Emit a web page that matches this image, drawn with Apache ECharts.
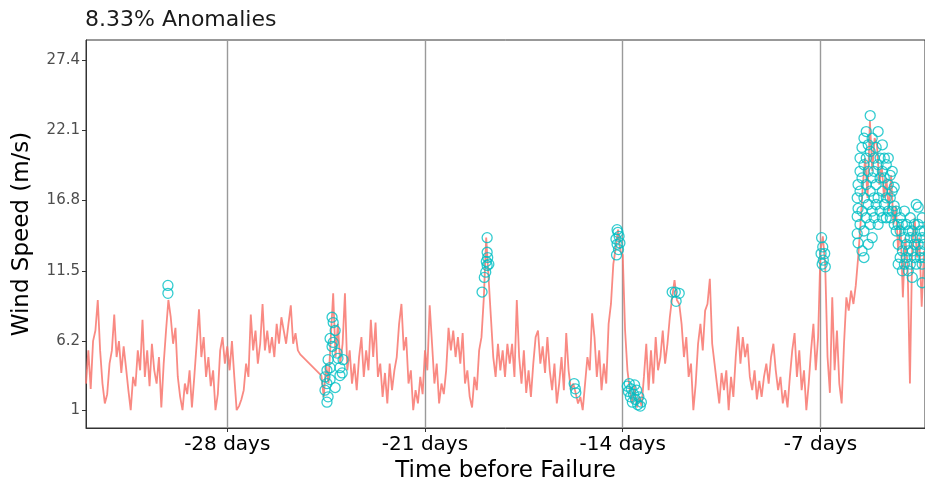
<!DOCTYPE html>
<html lang="en">
  <head>
    <meta charset="UTF-8" />
    <script src="https://cdn.jsdelivr.net/npm/echarts@6/dist/echarts.min.js"></script>
    <title>Wind speed anomalies</title>
    <style>
      html, body { margin: 0; padding: 0; background: #fff; }
      #app { width: 925px; height: 484px; }
    </style>
  </head>
  <body>
    <div id="app"></div>
    <script>
      // wind speed every 2 hours, starting 33 days before failure (null = missing)
      const startDay = -33;
      const stepDays = 1 / 12;
      const windSpeed = [
        3.0, 5.5, 2.6, 6.2, 7.0, 9.3, 5.5, 3.0, 1.5, 2.2, 4.5, 5.5,
        8.2, 5.0, 6.2, 3.8, 5.8, 4.2, 2.5, 1.0, 3.5, 2.8, 5.5, 4.0,
        7.8, 3.5, 5.5, 2.8, 6.0, 4.0, 3.0, 5.0, 1.2, 4.5, 7.0, 9.3,
        8.0, 6.0, 7.2, 3.5, 2.0, 1.0, 3.0, 2.2, 4.0, 1.2, 3.5, 6.0,
        8.6, 5.0, 6.5, 3.5, 5.0, 2.8, 4.0, 1.0, 2.2, 5.5, 6.5, 4.5,
        5.8, 4.0, 6.2, 3.5, 1.0, 1.3, 1.8, 2.5, 4.5, 3.5, 8.2, 5.5,
        7.0, 4.5, 6.0, 9.0, 5.5, 7.0, 5.3, 6.5, 5.0, 7.5, 6.0, 8.0,
        7.0, 6.0, 7.5, 8.9, 6.0, 6.8, 5.5, 5.2, null, null, null, null,
        null, null, null, null, 3.6, 2.0, 4.5, 3.0, 6.5, 9.8, 5.0, 7.5,
        4.5, 6.0, 9.8, 4.0, 5.5, 3.0, 4.5, 2.5, 5.0, 6.5, 3.5, 5.5,
        4.0, 7.8, 5.0, 7.6, 3.5, 4.5, 2.0, 3.8, 1.5, 4.5, 2.5, 4.0,
        5.0, 7.5, 9.0, 5.5, 6.5, 3.0, 4.0, 1.0, 2.5, 1.5, 3.5, 2.2,
        5.5, 4.0, 8.9, 6.0, 3.0, 4.5, 1.5, 3.0, 2.2, 4.0, 7.2, 5.5,
        7.0, 5.0, 6.5, 4.5, 6.8, 3.0, 4.0, 2.0, 1.2, 3.5, 2.5, 5.5,
        6.5, 9.5, 14.0, 11.0, 8.0, 5.0, 3.5, 6.0, 4.0, 5.5, 3.5, 6.0,
        4.5, 6.0, 3.5, 9.3, 5.0, 3.0, 5.5, 2.3, 4.0, 2.0, 4.5, 6.5,
        7.0, 4.5, 5.8, 3.8, 6.5, 4.0, 2.5, 4.5, 1.5, 3.0, 5.0, 2.5,
        6.8, 4.0, 2.5, 3.0, 2.3, 1.5, 2.0, 1.0, 3.0, 5.0, 4.0, 8.3,
        6.5, 3.5, 5.5, 2.5, 4.5, 3.0, 7.5, 9.0, 12.0, 13.2, 14.6, 13.0,
        12.7, 7.0, 4.0, 2.5, 1.5, 2.8, 1.2, 2.0, 1.3, 3.5, 6.0, 2.5,
        5.5, 3.0, 6.5, 4.0, 5.0, 7.0, 4.5, 6.0, 8.0, 9.5, 10.8, 9.3,
        9.0, 7.5, 5.0, 6.5, 3.5, 4.5, 1.0, 3.0, 6.0, 7.5, 5.5, 8.5,
        9.0, 10.9, 6.0, 4.5, 3.0, 1.5, 3.8, 2.5, 4.0, 1.0, 3.5, 2.0,
        5.0, 7.3, 4.5, 6.5, 5.0, 6.0, 3.5, 2.5, 4.0, 1.8, 3.2, 2.0,
        3.5, 4.5, 3.0, 5.0, 6.0, 4.0, 2.5, 3.5, 1.5, 2.5, 1.2, 3.5,
        5.5, 6.8, 3.5, 5.5, 2.5, 4.0, 1.0, 3.0, 5.5, 7.5, 4.0, 6.5,
        13.0, 14.1, 12.0, 5.0, 2.3, 9.5, 4.0, 7.0, 3.0, 1.5, 6.0, 9.5,
        8.5, 10.0, 9.0, 10.4, 12.5, 15.0, 18.0, 20.0, 17.0, 22.8, 19.0, 21.5,
        21.0, 18.0, 19.5, 17.0, 18.5, 16.0, 18.7, 15.0, 16.4, 13.0, 15.0, 9.5,
        14.0, 12.0, 3.0, 13.5, 15.5, 12.5, 14.0, 8.8, 13.0
      ];

      // flagged points: [days before failure, wind speed]
      const anomalies = [
        [-30.10, 10.4], [-30.10, 9.8],
        [-24.54, 3.5], [-24.54, 2.5], [-24.47, 4.0], [-24.47, 3.0], [-24.47, 1.6],
        [-24.43, 4.8], [-24.43, 2.0], [-24.36, 6.4], [-24.36, 3.3], [-24.36, 4.2],
        [-24.29, 8.0], [-24.29, 5.8], [-24.25, 7.6], [-24.25, 6.1], [-24.18, 7.0],
        [-24.18, 2.7], [-24.11, 5.3], [-24.08, 4.9], [-24.01, 4.2], [-24.01, 3.6],
        [-23.93, 3.8], [-23.90, 4.8],
        [-18.98, 9.9], [-18.90, 11.0], [-18.85, 11.4], [-18.80, 11.9], [-18.83, 12.2],
        [-18.78, 12.5], [-18.80, 12.9], [-18.80, 14.0], [-18.74, 12.0],
        [-15.72, 3.0], [-15.68, 2.6], [-15.66, 2.3],
        [-14.24, 13.9], [-14.20, 14.6], [-14.17, 14.4], [-14.13, 14.1], [-14.20, 13.5],
        [-14.15, 13.1], [-14.22, 12.7], [-14.10, 13.6],
        [-13.84, 2.8], [-13.80, 2.4], [-13.77, 3.0], [-13.73, 2.0], [-13.70, 2.6],
        [-13.66, 1.6], [-13.62, 2.2], [-13.58, 2.9], [-13.55, 1.8], [-13.51, 2.5],
        [-13.47, 1.4], [-13.43, 2.0], [-13.38, 1.3], [-13.34, 1.6],
        [-12.25, 9.9], [-12.14, 9.9], [-12.00, 9.8], [-12.11, 9.2],
        [-6.96, 14.0], [-6.92, 13.3], [-6.98, 12.8], [-6.85, 12.8], [-6.90, 12.3],
        [-6.83, 11.8], [-6.94, 12.0],
        [-5.70, 14.3], [-5.70, 15.6], [-5.70, 17.0], [-5.67, 16.2], [-5.67, 18.0],
        [-5.67, 13.6], [-5.60, 15.0], [-5.60, 17.5], [-5.60, 19.0], [-5.60, 20.0],
        [-5.53, 13.0], [-5.53, 16.0], [-5.53, 18.5], [-5.53, 20.8], [-5.46, 12.5],
        [-5.46, 14.5], [-5.46, 17.0], [-5.46, 19.5], [-5.46, 21.5], [-5.38, 15.5],
        [-5.38, 18.0], [-5.38, 20.0], [-5.38, 22.0], [-5.31, 13.5], [-5.31, 16.5],
        [-5.31, 19.0], [-5.31, 21.0], [-5.24, 23.2], [-5.24, 17.5], [-5.24, 15.0],
        [-5.24, 20.5], [-5.17, 18.5], [-5.17, 16.0], [-5.17, 21.5], [-5.17, 14.0],
        [-5.10, 19.0], [-5.10, 17.0], [-5.10, 15.5], [-5.10, 20.0], [-5.03, 18.0],
        [-5.03, 16.5], [-5.03, 20.8], [-4.96, 22.0], [-4.96, 19.5], [-4.96, 17.0],
        [-4.96, 15.0], [-4.89, 18.5], [-4.89, 16.0], [-4.89, 20.0], [-4.81, 17.5],
        [-4.81, 19.0], [-4.81, 15.5], [-4.81, 21.0], [-4.74, 16.5], [-4.74, 18.5],
        [-4.74, 20.0], [-4.67, 17.0], [-4.67, 15.5], [-4.67, 19.5], [-4.60, 18.0],
        [-4.60, 16.0], [-4.60, 20.0], [-4.53, 18.7], [-4.53, 17.0], [-4.53, 15.5],
        [-4.46, 17.5], [-4.46, 16.0], [-4.46, 19.0], [-4.39, 16.4], [-4.39, 17.8],
        [-4.39, 15.0], [-4.32, 16.0], [-4.32, 14.5], [-4.25, 13.5], [-4.25, 15.0],
        [-4.25, 12.0], [-4.18, 14.5], [-4.18, 12.5], [-4.18, 15.5], [-4.10, 13.0],
        [-4.10, 15.0], [-4.10, 11.5], [-4.03, 14.0], [-4.03, 12.0], [-4.03, 16.0],
        [-3.96, 13.5], [-3.96, 12.5], [-3.96, 15.0], [-3.89, 14.5], [-3.89, 11.5],
        [-3.89, 13.0], [-3.82, 12.0], [-3.82, 14.0], [-3.82, 15.5], [-3.75, 13.0],
        [-3.75, 11.0], [-3.75, 14.5], [-3.68, 15.0], [-3.68, 12.5], [-3.68, 13.5],
        [-3.61, 16.5], [-3.61, 14.0], [-3.61, 12.0], [-3.54, 16.3], [-3.54, 13.5],
        [-3.54, 15.0], [-3.47, 12.5], [-3.47, 14.5], [-3.47, 13.0], [-3.40, 10.6],
        [-3.40, 14.0], [-3.40, 12.0], [-3.40, 15.5], [-3.33, 13.5], [-3.33, 12.5],
        [-3.33, 14.5]
      ];

      const dayTicks = [-28, -21, -14, -7];
      const speedTicks = [1, 6.2, 11.5, 16.8, 22.1, 27.4];
      const titleText = "8.33% Anomalies";

      const lineData = windSpeed.map((v, i) => [startDay + i * stepDays, v]);
      const font = "DejaVu Sans";

      const chart = echarts.init(document.getElementById("app"));
      chart.setOption({
        animation: false,
        title: {
          text: titleText,
          left: 85,
          top: 9,
          padding: 0,
          textStyle: { fontFamily: font, fontSize: 22, fontWeight: "normal", color: "#1a1a1a" },
        },
        grid: {
          left: 86,
          right: 0,
          top: 40,
          bottom: 56,
          outerBoundsMode: "none",
          containLabel: false,
          show: true,
          borderColor: "#333",
          borderWidth: 1,
        },
        xAxis: {
          type: "value",
          min: -33,
          max: -3.3,
          name: "Time before Failure",
          nameLocation: "middle",
          nameGap: 30,
          nameTextStyle: { fontFamily: font, fontSize: 23, color: "#000" },
          axisLine: { onZero: false, lineStyle: { color: "#333", width: 1 } },
          axisTick: { length: 4, lineStyle: { color: "#333" }, customValues: dayTicks },
          axisLabel: {
            customValues: dayTicks,
            formatter: (v) => v + " days",
            fontFamily: font,
            fontSize: 20,
            color: "#000",
            margin: 7,
          },
          splitLine: { show: true, lineStyle: { color: "#9a9a9a", width: 1.4 } },
        },
        yAxis: {
          type: "value",
          min: -0.35,
          max: 28.9,
          name: "Wind Speed (m/s)",
          nameLocation: "middle",
          nameGap: 52,
          nameTextStyle: { fontFamily: font, fontSize: 23, color: "#000" },
          axisLine: { show: true, onZero: false, lineStyle: { color: "#333", width: 1 } },
          axisTick: { show: true, length: 4, lineStyle: { color: "#333" }, customValues: speedTicks },
          axisLabel: {
            customValues: speedTicks,
            formatter: (v) => String(v),
            fontFamily: font,
            fontSize: 15,
            color: "#4d4d4d",
            margin: 6,
          },
          splitLine: { show: false },
        },
        series: [
          {
            name: "Wind speed",
            type: "line",
            data: lineData,
            connectNulls: true,
            showSymbol: false,
            symbol: "none",
            lineStyle: { color: "#F8766D", width: 1.8, opacity: 0.85 },
            z: 2,
          },
          {
            name: "Anomaly",
            type: "scatter",
            data: anomalies,
            symbol: "circle",
            symbolSize: 10,
            itemStyle: { color: "rgba(0,0,0,0)", borderColor: "#00BFC4", borderWidth: 1.3 },
            z: 3,
          },
        ],
      });
    </script>
  </body>
</html>
